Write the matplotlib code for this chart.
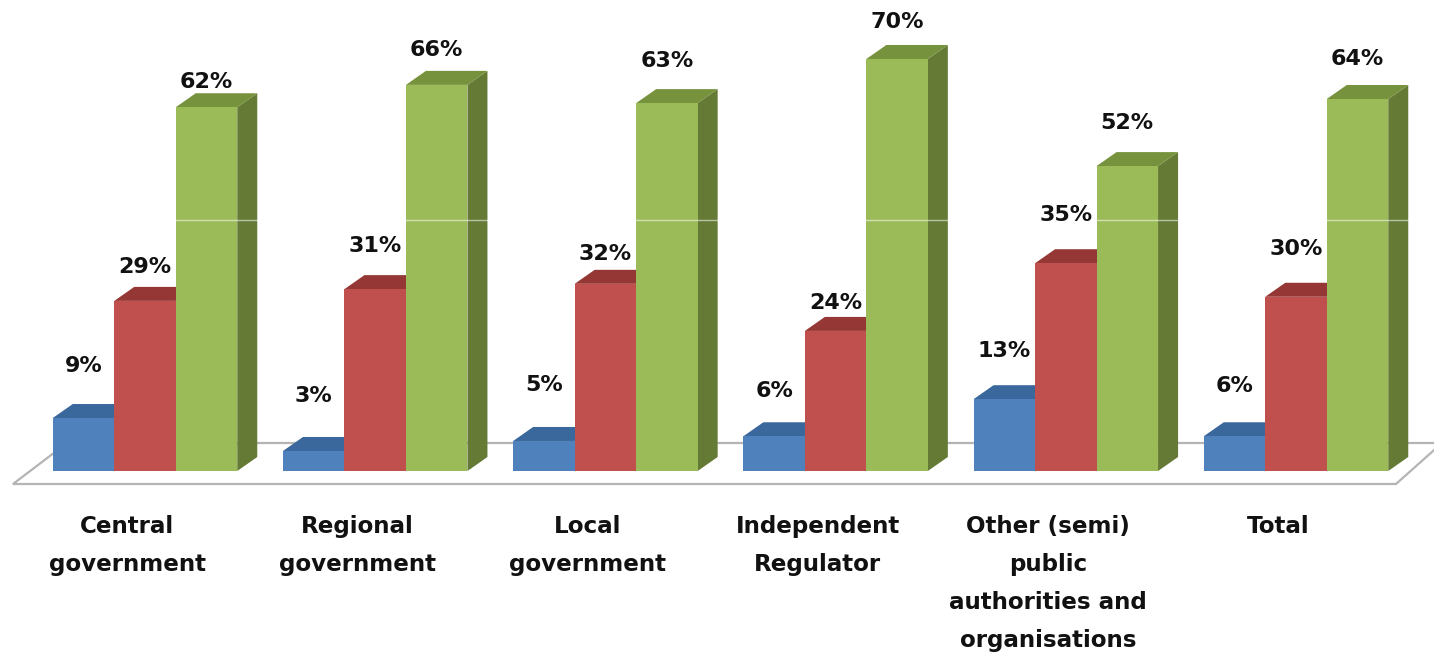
import matplotlib
matplotlib.use("Agg")
import matplotlib.pyplot as plt

categories = ["Central\ngovernment", "Regional\ngovernment", "Local\ngovernment",
              "Independent\nRegulator", "Other (semi)\npublic\nauthorities and\norganisations", "Total"]

# bar heights
blue = [9.0, 3.4, 5.1, 5.9, 12.2, 5.9]
red = [28.9, 30.9, 31.8, 23.8, 35.3, 29.6]
green = [61.8, 65.6, 62.5, 70.0, 51.8, 63.2]

# printed labels
blue_labels = ["9%", "3%", "5%", "6%", "13%", "6%"]
red_labels = ["29%", "31%", "32%", "24%", "35%", "30%"]
green_labels = ["62%", "66%", "63%", "70%", "52%", "64%"]

# how far each label sits above its bar, in pixels
blue_gaps = [52, 55, 56, 45, 48, 50]
red_gaps = [34, 43, 30, 28, 48, 48]
green_gaps = [25, 35, 42, 37, 43, 40]

W, H = 1434, 653
X0, GROUP = 145, 230.2   # pixel x of first group centre, pixels per group
Y0, UNIT = 471, 5.886    # pixel y of the baseline, pixels per percent
BAR = 61.5 / GROUP
DX, DY = 20 / GROUP, 14 / UNIT


def px(x):
    return (x - X0) / GROUP


def py(y):
    return (Y0 - y) / UNIT


fig = plt.figure(figsize=(W / 100, H / 100), dpi=100)
ax = fig.add_axes([0, 0, 1, 1])
ax.set_xlim(px(0), px(W))
ax.set_ylim(py(H), py(0))
ax.axis("off")

# floor
ax.fill([px(13), px(1396), px(1442), px(67)], [py(484), py(484), py(443), py(443)],
        facecolor="white", edgecolor="#b4b4b4", linewidth=1.6, zorder=1)

series = [(blue, blue_labels, blue_gaps, -1, "#4f81bd", "#3a679c", "#33598a"),
          (red, red_labels, red_gaps, 0, "#c0504d", "#953735", "#8a3230"),
          (green, green_labels, green_gaps, 1, "#9bbb59", "#76923c", "#647a35")]

for values, labels, gaps, off, front, top, side in series:
    for i, v in enumerate(values):
        x = i + off * BAR
        l, r = x - BAR / 2, x + BAR / 2
        ax.fill([r, r + DX, r + DX, r], [0, DY, v + DY, v], color=side, linewidth=0, zorder=2 + off)
        ax.fill([l, r, r + DX, l + DX], [v, v, v + DY, v + DY], color=top, linewidth=0, zorder=2 + off)
        ax.bar(x, v, width=BAR, color=front, linewidth=0, zorder=2.5 + off)
        ax.annotate(labels[i], (x, v), xytext=(0, gaps[i]), textcoords="offset pixels",
                    ha="center", va="center", fontsize=16, fontweight="bold",
                    color="#111111", zorder=6)

for i, name in enumerate(categories):
    ax.annotate(name, (i, 0), xytext=(-18, -44), textcoords="offset pixels",
                ha="center", va="top", fontsize=16.6, fontweight="bold",
                color="#111111", linespacing=1.83, zorder=6)

# scan seam across the picture
ax.axhline(py(220), color="white", linewidth=1, alpha=0.55, zorder=5)

fig.savefig("out.png", dpi=100)
